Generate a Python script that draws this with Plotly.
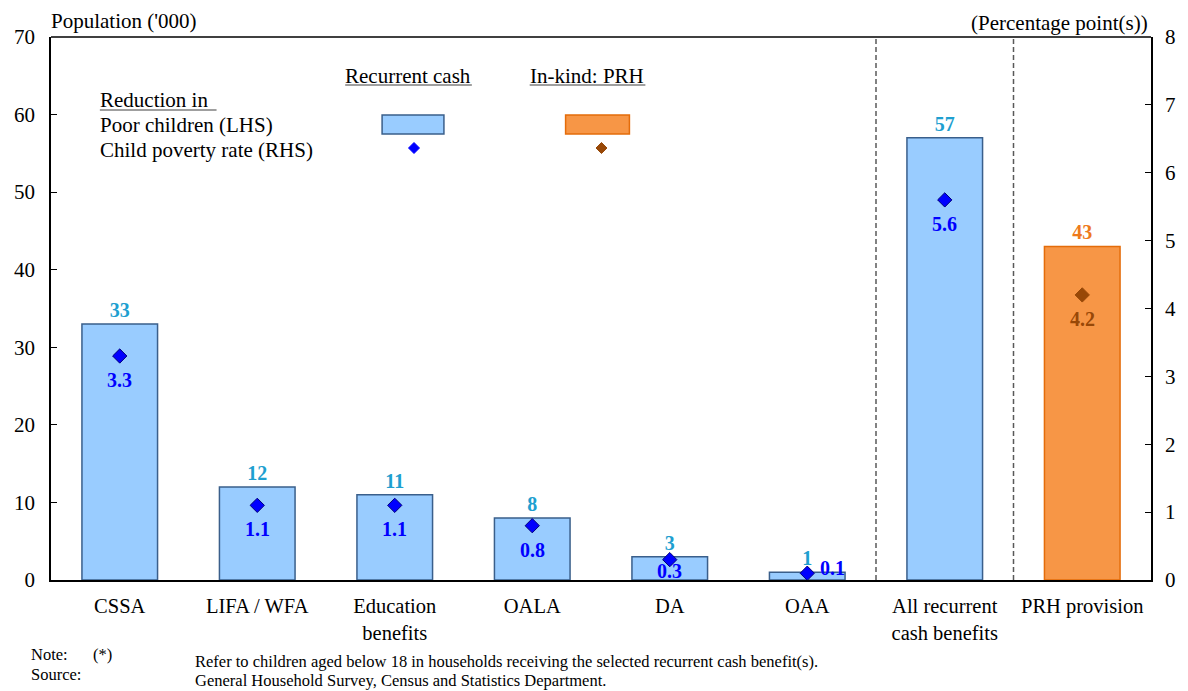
import plotly.graph_objects as go

# ---- data ----
categories = ["CSSA", "LIFA / WFA", "Education<br>benefits", "OALA", "DA", "OAA",
              "All recurrent<br>cash benefits", "PRH provision"]
poor_children = [33, 12, 11, 8, 3, 1, 57, 43]          # '000, LHS
poverty_rate = [3.3, 1.1, 1.1, 0.8, 0.3, 0.1, 5.6, 4.2]  # percentage points, RHS
is_inkind = [False] * 7 + [True]

# ---- styling ----
FONT = "Liberation Serif"
CASH_FILL, CASH_EDGE = "#99CCFF", "#3A5F8B"
PRH_FILL, PRH_EDGE = "#F79646", "#E46C0A"
CASH_LABEL, PRH_LABEL = "#1E9FD0", "#EE7A1C"
CASH_DOT, PRH_DOT = "#0000FF", "#984807"

# plot-area geometry in pixels (used for placing the hand-built legend)
W, H = 1188, 691
L, R, T, B = 51, 1154, 37, 580


def px(x):
    return (x - L) / (R - L)


def py(y):
    return (B - y) / (B - T)


x = list(range(len(categories)))

fig = go.Figure()

fig.add_trace(go.Bar(
    x=x, y=poor_children,
    width=0.55,
    marker=dict(color=[PRH_FILL if k else CASH_FILL for k in is_inkind],
                line=dict(color=[PRH_EDGE if k else CASH_EDGE for k in is_inkind], width=1.5)),
    text=[f"<b>{v}</b>" for v in poor_children],
    textposition="outside",
    textfont=dict(family=FONT, size=20,
                  color=[PRH_LABEL if k else CASH_LABEL for k in is_inkind]),
    cliponaxis=False,
    showlegend=False,
    yaxis="y",
))

fig.add_trace(go.Scatter(
    x=x, y=poverty_rate,
    mode="markers",
    marker=dict(symbol="diamond", size=11,
                color=[PRH_DOT if k else CASH_DOT for k in is_inkind],
                line=dict(color=[PRH_DOT if k else "#00007A" for k in is_inkind], width=1)),
    cliponaxis=False,
    showlegend=False,
    yaxis="y2",
))

annotations = []

# value labels for the poverty-rate diamonds (below each marker; small ones shifted)
for i, (xv, v, k) in enumerate(zip(x, poverty_rate, is_inkind)):
    ann = dict(x=xv, y=v, xref="x", yref="y2", text=f"<b>{v}</b>", showarrow=False,
               xanchor="center", yanchor="middle", yshift=-24,
               font=dict(family=FONT, size=20, color=PRH_DOT if k else CASH_DOT))
    if categories[i] == "DA":
        ann["yshift"] = -11
    elif categories[i] == "OAA":
        ann.update(xanchor="left", xshift=11, yshift=5)
    annotations.append(ann)

shapes = []
# dashed separators between the groups
for xv in (5.5, 6.5):
    shapes.append(dict(type="line", xref="x", yref="paper", x0=xv, x1=xv, y0=0, y1=1,
                       line=dict(color="#595959", width=1.5, dash="5px,3px")))
# top border
shapes.append(dict(type="line", xref="paper", yref="paper", x0=0, x1=1, y0=1, y1=1,
                   line=dict(color="black", width=1.5)))

# legend: swatches
shapes.append(dict(type="rect", xref="paper", yref="paper",
                   x0=px(383), x1=px(445), y0=py(134), y1=py(115),
                   fillcolor=CASH_FILL, line=dict(color=CASH_EDGE, width=1.5)))
shapes.append(dict(type="rect", xref="paper", yref="paper",
                   x0=px(567), x1=px(631), y0=py(134), y1=py(115),
                   fillcolor=PRH_FILL, line=dict(color=PRH_EDGE, width=1.5)))


def diamond(cx, cy, r, color):
    path = (f"M {px(cx - r)},{py(cy)} L {px(cx)},{py(cy - r)} "
            f"L {px(cx + r)},{py(cy)} L {px(cx)},{py(cy + r)} Z")
    return dict(type="path", xref="paper", yref="paper", path=path,
                fillcolor=color, line=dict(color=color, width=1))


shapes.append(diamond(415, 148, 5.5, CASH_DOT))
shapes.append(diamond(603, 148, 5.5, PRH_DOT))

# legend: underlines
for x0, x1, yy in ((346, 473, 85), (531, 647, 85), (100, 217, 110)):
    shapes.append(dict(type="line", xref="paper", yref="paper",
                       x0=px(x0), x1=px(x1), y0=py(yy), y1=py(yy),
                       line=dict(color="#7F7F7F", width=1.5)))


def label(text, xpix, ypix, size=21, xanchor="left", yanchor="middle", color="black"):
    annotations.append(dict(text=text, xref="paper", yref="paper",
                            x=px(xpix), y=py(ypix), xanchor=xanchor, yanchor=yanchor,
                            showarrow=False, font=dict(family=FONT, size=size, color=color)))


label("Recurrent cash", 344, 76)
label("In-kind: PRH", 529, 76)
label("Reduction in", 98, 100)
label("Poor children (LHS)", 98, 125)
label("Child poverty rate (RHS)", 98, 150)

# axis titles
label("Population ('000)", 49, 21)
label("(Percentage point(s))", 1153, 23, xanchor="right")

# footnotes
label("Note:", 29, 654, size=16.5)
label("(*)", 91, 654, size=16.5)
label("Refer to children aged below 18 in households receiving the selected recurrent cash benefit(s).",
      193, 661, size=16.5)
label("Source:", 29, 675, size=16.5)
label("General Household Survey, Census and Statistics Department.", 193, 680, size=16.5)

fig.update_layout(
    width=W, height=H,
    margin=dict(l=L, r=W - R, t=T, b=H - B, pad=0),
    paper_bgcolor="white", plot_bgcolor="white",
    font=dict(family=FONT, size=20, color="black"),
    shapes=shapes,
    annotations=annotations,
    xaxis=dict(
        range=[-0.5, len(categories) - 0.5],
        tickmode="array", tickvals=x, ticktext=categories,
        showline=True, linecolor="black", linewidth=1.5,
        ticks="", showgrid=False, zeroline=False,
        tickfont=dict(family=FONT, size=20.5),
        ticklabelstandoff=7,
    ),
    yaxis=dict(
        range=[0, 70], dtick=10,
        showline=True, linecolor="black", linewidth=1.5,
        ticks="inside", ticklen=6, tickcolor="black",
        showgrid=False, zeroline=False,
        tickfont=dict(family=FONT, size=21),
        ticklabelstandoff=10,
    ),
    yaxis2=dict(
        range=[0, 8], dtick=1, overlaying="y", side="right",
        showline=True, linecolor="black", linewidth=1.5,
        ticks="inside", ticklen=6, tickcolor="black",
        showgrid=False, zeroline=False,
        tickfont=dict(family=FONT, size=21),
        ticklabelstandoff=8,
    ),
)

fig.write_html("out.html")
